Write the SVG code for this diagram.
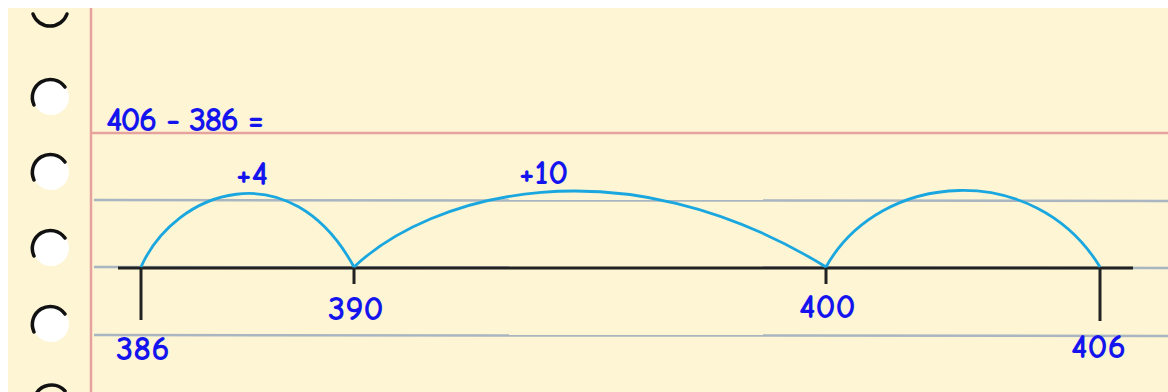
<svg xmlns="http://www.w3.org/2000/svg" width="1168" height="392" viewBox="0 0 1168 392">
<style>
.rule{stroke:#A9B5C0;stroke-width:2.5}
.red{stroke:#E6A29C;stroke-width:2.5}
.axis{stroke:#222;stroke-width:3;fill:none}
.arc{stroke:#1AA7E0;stroke-width:2.8;fill:none}
.t{font-family:"Comic Neue","Liberation Sans",sans-serif;font-size:35px;font-weight:bold;fill:#1414EE}
.hole{fill:#fff}
.rim{fill:none;stroke:#111;stroke-width:3.5;stroke-linecap:round}
</style>
<defs>
<g id="holeShape">
<circle class="hole" cx="1" cy="1" r="18"/>
<path class="rim" d="M -16 9 A 18 18 0 0 1 15 -9"/>
</g>
</defs>
<rect x="0" y="0" width="1168" height="392" fill="#fff"/>
<rect x="8" y="8" width="1160" height="384" fill="#FDF5D3"/>
<g id="paper-lines">
<line class="red" x1="91" y1="8" x2="91" y2="392"/>
<line class="red" x1="91" y1="133" x2="1168" y2="133"/>
<line class="rule" x1="94" y1="200" x2="1168" y2="201"/>
<line class="rule" x1="94" y1="267" x2="1168" y2="268"/>
<line class="rule" x1="94" y1="335" x2="1168" y2="336"/>
</g>
<g id="holes">
<g transform="translate(50,9)"><path class="rim" d="M -17 5 A 18 18 0 0 0 17 5"/></g>
<use href="#holeShape" x="50" y="96"/>
<use href="#holeShape" x="50" y="171"/>
<use href="#holeShape" x="50" y="247"/>
<use href="#holeShape" x="50" y="323"/>
<g transform="translate(50,400)"><path class="rim" d="M -15 -4 A 18 18 0 0 1 15 -9"/></g>
</g>
<g id="equation"><text class="t" x="106" y="131" textLength="158" lengthAdjust="spacing">406 - 386 =</text></g>
<g id="connectors">
<line class="axis" x1="118" y1="268" x2="1133" y2="268"/>
<path class="arc" d="M 141 267 C 175 190, 290 150, 354 267"/>
<path class="arc" d="M 354 267 C 430 195, 620 140, 826 267"/>
<path class="arc" d="M 826 267 C 880 170, 1035 160, 1100 267"/>
</g>
<g id="n386"><line class="axis" x1="141" y1="268" x2="141" y2="320"/><text class="t" x="116" y="360">386</text></g>
<g id="n390"><line class="axis" x1="354" y1="268" x2="354" y2="284"/><text class="t" x="328" y="320">390</text></g>
<g id="n400"><line class="axis" x1="826" y1="268" x2="826" y2="284"/><text class="t" x="799" y="318">400</text></g>
<g id="n406"><line class="axis" x1="1100" y1="268" x2="1100" y2="321"/><text class="t" x="1071" y="358">406</text></g>
<g id="label-plus4"><text class="t" x="236" y="185">+4</text></g>
<g id="label-plus10"><text class="t" x="519" y="184">+10</text></g>
</svg>
